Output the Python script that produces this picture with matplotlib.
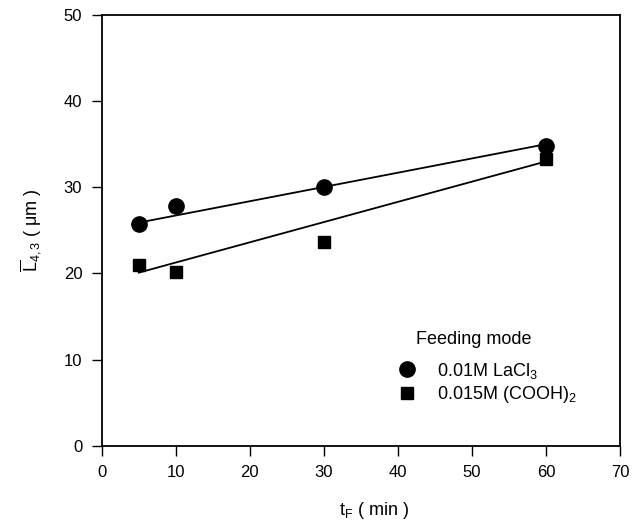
import matplotlib
matplotlib.use("Agg")
import matplotlib.pyplot as plt

plt.rcParams['font.family'] = ['Liberation Sans', 'DejaVu Sans']
plt.rcParams['mathtext.fontset'] = 'custom'
plt.rcParams['mathtext.rm'] = 'Liberation Sans'
plt.rcParams['mathtext.it'] = 'Liberation Sans'

# data
t_lacl3 = [5, 10, 30, 60]
L_lacl3 = [25.7, 27.8, 30.0, 34.8]
t_oxal = [5, 10, 30, 60]
L_oxal = [21.0, 20.2, 23.7, 33.3]
# fitted trend line endpoints
fit_t = [5, 60]
fit_lacl3 = [25.9, 35.0]
fit_oxal = [20.1, 33.0]

xticks = [0, 10, 20, 30, 40, 50, 60, 70]
yticks = [0, 10, 20, 30, 40, 50]

fig = plt.figure(figsize=(6.44, 5.29), dpi=100)
ax = fig.add_axes([0.158, 0.157, 0.805, 0.815])

ax.plot(fit_t, fit_lacl3, color='black', lw=1.3)
ax.plot(fit_t, fit_oxal, color='black', lw=1.3)
h1, = ax.plot(t_lacl3, L_lacl3, 'o', color='black', ms=11, ls='none', label=r'0.01M LaCl$_3$')
h2, = ax.plot(t_oxal, L_oxal, 's', color='black', ms=9, ls='none', label=r'0.015M (COOH)$_2$')

ax.set_xlim(0, 70)
ax.set_ylim(0, 50)
ax.set_xticks(xticks)
ax.set_yticks(yticks)
ax.tick_params(direction='out', length=7, width=1, labelsize=12, pad=7)
for s in ax.spines.values():
    s.set_linewidth(1.3)

ax.set_xlabel(r'$\mathrm{t_F}$ ( min )', fontsize=13, labelpad=12)
ax.xaxis.set_label_coords(0.525, -0.125)
ax.set_ylabel(r'$\overline{\mathrm{L}}_{4,3}$ ( μm )', fontsize=13, labelpad=14)

ax.text(0.606, 0.246, 'Feeding mode', transform=ax.transAxes, fontsize=13,
        ha='left', va='center')
leg = ax.legend(handles=[h1, h2], loc='center left',
                bbox_to_anchor=(0.571, 0.146), frameon=False, fontsize=13,
                borderpad=0, borderaxespad=0, handletextpad=1.2,
                labelspacing=0.2, handlelength=1.0)

fig.savefig('out.png', dpi=100)
